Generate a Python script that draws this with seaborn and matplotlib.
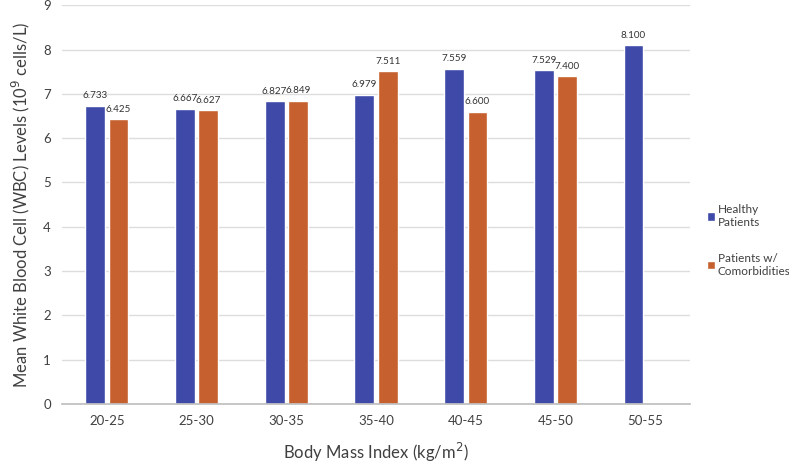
import matplotlib
matplotlib.use("Agg")
import matplotlib.pyplot as plt
import seaborn as sns
import pandas as pd
import numpy as np

categories = ["20-25", "25-30", "30-35", "35-40", "40-45", "45-50", "50-55"]
healthy = [6.733, 6.667, 6.827, 6.979, 7.559, 7.529, 8.100]
comorb = [6.425, 6.627, 6.849, 7.511, 6.600, 7.400, np.nan]
series = ["Healthy\nPatients", "Patients w/\nComorbidities"]
colors = ["#3F4AA8", "#C6602F"]

df = pd.DataFrame({
    "BMI": categories * 2,
    "Value": healthy + comorb,
    "Group": [series[0]] * len(categories) + [series[1]] * len(categories),
})

sns.set_theme(style="white")
plt.rcParams['font.family'] = ['Lato', 'DejaVu Sans']

fig = plt.figure(figsize=(7.89, 4.72), dpi=100)
ax = fig.add_axes([0.0786, 0.144, 0.796, 0.845])

sns.barplot(data=df, x="BMI", y="Value", hue="Group", order=categories,
            hue_order=series, palette=colors, width=0.52, gap=0.15,
            ax=ax, saturation=1, legend=True)

for cont in ax.containers:
    labels = [("" if np.isnan(v) else f"{v:.3f}") for v in cont.datavalues]
    ax.bar_label(cont, labels=labels, padding=4, fontsize=7.1, color="#333333")

ax.set_ylim(0, 9)
ax.set_yticks(range(0, 10))
ax.set_xlim(-0.5, len(categories) - 0.5)
ax.grid(axis="y", color="#DDDDDD", linewidth=1)
ax.set_axisbelow(True)
for s in ["top", "right", "left"]:
    ax.spines[s].set_visible(False)
ax.spines["bottom"].set_color("#BFBFBF")
ax.tick_params(axis="both", length=0, labelsize=9.5, colors="#404040", pad=8)
ax.set_xlabel("Body Mass Index (kg/m$^2$)", fontsize=12, color="#404040", labelpad=10)
ax.set_ylabel("Mean White Blood Cell (WBC) Levels (10$^9$ cells/L)", fontsize=12,
              color="#404040", labelpad=8)

leg = ax.legend(loc="center left", bbox_to_anchor=(1.01, 0.41), frameon=False,
                fontsize=8.5, handlelength=0.7, handleheight=0.7,
                handletextpad=0.2, labelspacing=2.1)
for t in leg.get_texts():
    t.set_color("#404040")

fig.savefig("out.png", dpi=100)
